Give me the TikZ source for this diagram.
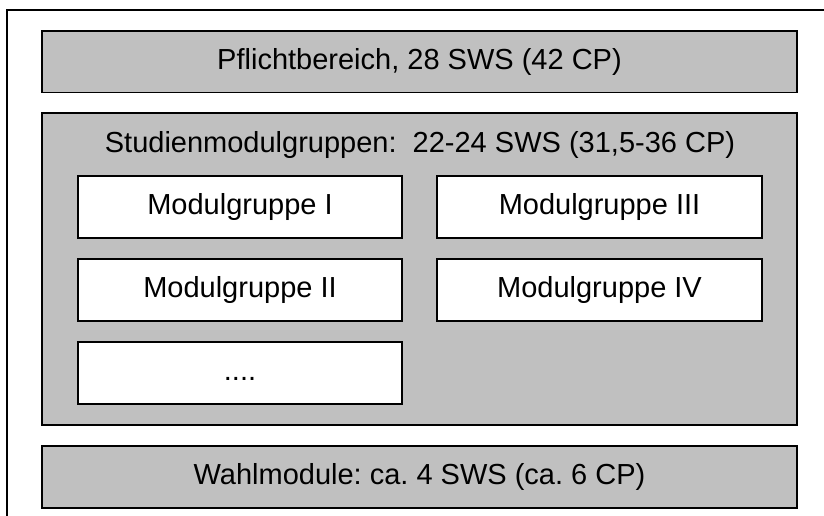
\documentclass[tikz,border=0pt]{standalone}
\usepackage{fontspec}
\setmainfont{Liberation Sans}
\definecolor{boxgray}{HTML}{C0C0C0}
\frenchspacing
\begin{document}
\begin{tikzpicture}[x=1pt,y=-1pt,
  every node/.style={font=\fontsize{29}{34}\selectfont},
  graybox/.style={draw=black, fill=boxgray, line width=1.8pt, inner sep=0pt, minimum width=755pt, text height=21pt, text depth=6pt},
  whitebox/.style={draw=black, fill=white, line width=1.6pt, inner sep=0pt, minimum height=62pt, text height=21pt, text depth=6pt}]
\useasboundingbox (0,0) rectangle (824,516);
\begin{scope}
\clip (0,0) rectangle (824,516);
\draw[line width=2pt] (7,540) -- (7,10) -- (850,10);
\end{scope}
\node[graybox, minimum height=61.5pt] (pflicht) at (419.5,61.75) {Pflichtbereich, 28 SWS (42 CP)};
\node[graybox, minimum height=312pt] (studien) at (419.5,269) {};
\node[anchor=base, inner sep=0pt] (studlabel) at (420,152) {Studienmodulgruppen:\ \ 22-24 SWS (31,5-36 CP)};
\node[whitebox, minimum width=324pt] (mg1) at (240,207) {Modulgruppe I};
\node[whitebox, minimum width=324pt] (mg2) at (240,290) {Modulgruppe II};
\node[whitebox, minimum width=324pt] (mgdots) at (240,373) {....};
\node[whitebox, minimum width=325pt] (mg3) at (599.5,207) {Modulgruppe III};
\node[whitebox, minimum width=325pt] (mg4) at (599.5,290) {Modulgruppe IV};
\node[graybox, minimum height=62pt] (wahl) at (419.5,477) {Wahlmodule: ca. 4 SWS (ca. 6 CP)};
\end{tikzpicture}
\end{document}
